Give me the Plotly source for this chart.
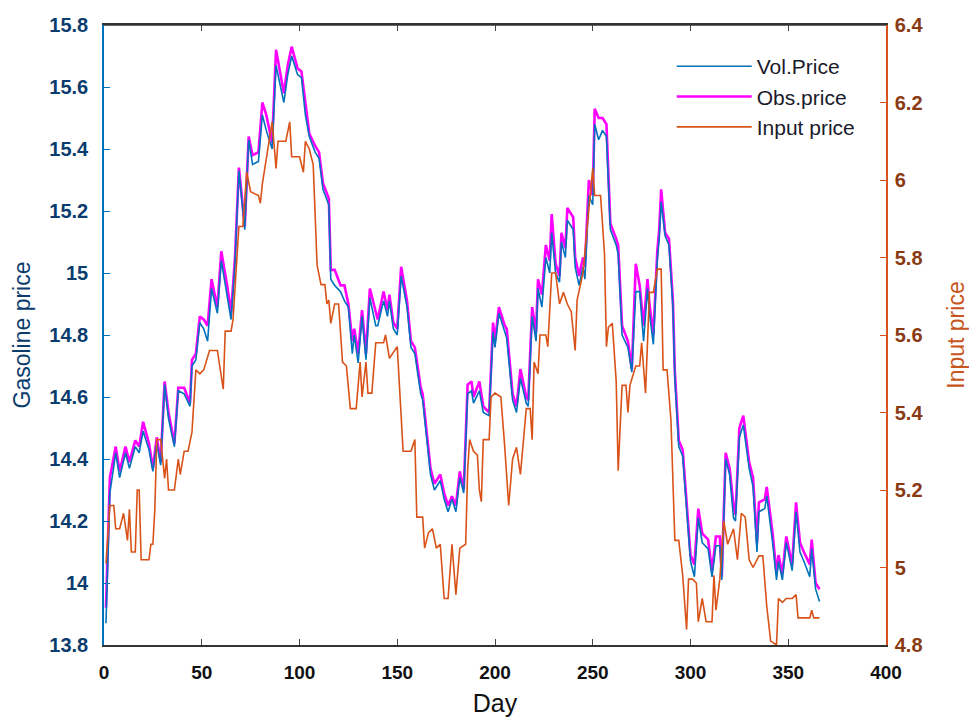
import plotly.graph_objects as go

# ---------------- data ----------------
gas_days = [1, 3, 6, 8, 11, 13, 16, 18, 20, 23, 25, 27, 29, 31, 33, 36, 38, 41, 44, 45,
            47, 49, 51, 53, 55, 58, 60, 63, 65, 67, 69, 72, 74, 76, 79, 81, 83, 86, 88, 92,
            94, 96, 99, 101, 103, 105, 108, 110, 112, 115, 116, 118, 121, 123, 125, 127, 128, 130, 132, 134,
            136, 139, 140, 143, 145, 146, 148, 150, 152, 155, 157, 159, 162, 163, 167, 169, 172, 174, 176, 178,
            180, 182, 184, 186, 188, 189, 192, 194, 197, 199, 200, 202, 205, 206, 209, 211, 213, 216, 217, 219,
            221, 222, 224, 226, 228, 229, 231, 233, 234, 236, 237, 240, 241, 243, 245, 246, 248, 250, 251, 253,
            255, 257, 259, 262, 263, 265, 268, 270, 272, 274, 276, 278, 279, 281, 283, 284, 285, 287, 289, 291,
            292, 294, 296, 298, 300, 302, 304, 306, 309, 311, 313, 315, 316, 318, 320, 322, 323, 325, 327, 330,
            332, 334, 335, 338, 339, 342, 344, 345, 347, 349, 352, 354, 356, 358, 361, 362, 364, 366]

obs_price = [13.92, 14.34, 14.44, 14.36, 14.44, 14.39, 14.46, 14.44, 14.52, 14.45, 14.37, 14.47, 14.39, 14.65, 14.55, 14.45, 14.63, 14.63, 14.58, 14.72,
             14.74, 14.86, 14.85, 14.83, 14.98, 14.89, 15.07, 14.96, 14.87, 15.05, 15.34, 15.15, 15.44, 15.38, 15.39, 15.55, 15.51, 15.42, 15.72, 15.58,
             15.67, 15.73, 15.66, 15.65, 15.55, 15.45, 15.41, 15.39, 15.29, 15.24, 15.01, 15.01, 14.96, 14.96, 14.90, 14.78, 14.82, 14.74, 14.88, 14.74,
             14.95, 14.87, 14.85, 14.94, 14.88, 14.93, 14.84, 14.82, 15.02, 14.91, 14.78, 14.76, 14.63, 14.61, 14.37, 14.32, 14.35, 14.29, 14.25, 14.28,
             14.25, 14.36, 14.30, 14.64, 14.65, 14.60, 14.65, 14.57, 14.55, 14.84, 14.78, 14.89, 14.83, 14.82, 14.61, 14.57, 14.69, 14.60, 14.59, 14.89,
             14.81, 14.98, 14.93, 15.09, 15.04, 15.19, 15.03, 14.99, 15.13, 15.08, 15.21, 15.18, 15.05, 14.99, 15.05, 15.02, 15.30, 15.25, 15.53, 15.50,
             15.50, 15.48, 15.16, 15.11, 15.09, 14.83, 14.78, 14.69, 15.03, 14.96, 14.83, 14.98, 14.90, 14.80, 15.07, 15.14, 15.27, 15.13, 15.11, 14.91,
             14.68, 14.46, 14.43, 14.26, 14.09, 14.06, 14.24, 14.16, 14.14, 14.04, 14.15, 14.15, 14.02, 14.42, 14.37, 14.25, 14.22, 14.50, 14.54, 14.39,
             14.34, 14.13, 14.26, 14.27, 14.31, 14.16, 14.03, 14.09, 14.03, 14.15, 14.06, 14.26, 14.13, 14.10, 14.06, 14.14, 14.00, 13.98]

vol_price = [13.87, 14.29, 14.42, 14.34, 14.42, 14.37, 14.44, 14.42, 14.49, 14.43, 14.36, 14.45, 14.38, 14.64, 14.53, 14.44, 14.62, 14.61, 14.57, 14.70,
             14.72, 14.84, 14.82, 14.78, 14.95, 14.87, 15.04, 14.93, 14.85, 15.03, 15.33, 15.14, 15.43, 15.35, 15.36, 15.51, 15.46, 15.40, 15.67, 15.55,
             15.64, 15.70, 15.64, 15.63, 15.51, 15.44, 15.39, 15.37, 15.27, 15.22, 14.98, 14.96, 14.94, 14.91, 14.89, 14.74, 14.80, 14.71, 14.86, 14.72,
             14.92, 14.83, 14.83, 14.91, 14.86, 14.91, 14.82, 14.80, 14.99, 14.89, 14.76, 14.74, 14.61, 14.59, 14.35, 14.30, 14.33, 14.27, 14.23, 14.27,
             14.23, 14.34, 14.29, 14.61, 14.62, 14.58, 14.62, 14.55, 14.54, 14.81, 14.76, 14.87, 14.81, 14.79, 14.59, 14.55, 14.66, 14.58, 14.57, 14.86,
             14.78, 14.95, 14.89, 15.05, 15.00, 15.13, 15.00, 14.97, 15.10, 15.05, 15.17, 15.14, 15.02, 14.96, 15.02, 14.98, 15.25, 15.22, 15.48, 15.43,
             15.46, 15.44, 15.14, 15.09, 15.06, 14.80, 14.76, 14.68, 14.94, 14.94, 14.78, 14.95, 14.87, 14.77, 15.04, 15.11, 15.23, 15.12, 15.09, 14.89,
             14.66, 14.44, 14.41, 14.24, 14.07, 14.02, 14.21, 14.13, 14.11, 14.02, 14.12, 14.12, 14.01, 14.40, 14.35, 14.21, 14.20, 14.47, 14.51, 14.37,
             14.31, 14.10, 14.23, 14.24, 14.28, 14.13, 14.01, 14.07, 14.01, 14.13, 14.04, 14.23, 14.10, 14.07, 14.02, 14.11, 13.98, 13.94]

input_days = [1, 3, 5, 6, 8, 10, 12, 13, 14, 16, 17, 18, 19, 23, 24, 25, 26, 27, 29, 31,
              32, 33, 36, 38, 39, 41, 43, 45, 47, 49, 51, 54, 58, 61, 62, 65, 66, 69, 71, 73,
              75, 79, 80, 81, 86, 88, 89, 93, 95, 96, 100, 102, 103, 105, 107, 109, 111, 113, 114, 115,
              116, 118, 120, 122, 124, 126, 129, 131, 132, 134, 135, 137, 139, 143, 144, 146, 150, 153, 157, 159,
              160, 163, 164, 166, 168, 170, 172, 174, 176, 178, 180, 182, 185, 186, 187, 189, 191, 192, 193, 194,
              197, 198, 200, 203, 205, 207, 209, 211, 213, 216, 218, 219, 220, 222, 223, 226, 227, 229, 231, 233,
              235, 237, 239, 241, 242, 245, 247, 250, 251, 254, 256, 257, 258, 260, 262, 263, 265, 267, 268, 269,
              272, 274, 275, 277, 279, 281, 283, 285, 286, 288, 290, 292, 294, 296, 298, 299, 301, 303, 304, 306,
              308, 311, 312, 313, 315, 317, 319, 321, 322, 324, 326, 328, 330, 332, 335, 337, 339, 341, 344, 345,
              347, 349, 352, 354, 355, 361, 362, 363, 366]

input_price = [5.01, 5.16, 5.16, 5.10, 5.10, 5.14, 5.07, 5.15, 5.04, 5.04, 5.20, 5.20, 5.02, 5.02, 5.06, 5.06, 5.15, 5.33, 5.33, 5.23,
               5.28, 5.20, 5.20, 5.28, 5.24, 5.30, 5.30, 5.35, 5.51, 5.50, 5.51, 5.56, 5.56, 5.46, 5.61, 5.61, 5.64, 5.88, 5.88, 6.02,
               5.97, 5.96, 5.94, 5.99, 6.15, 6.03, 6.10, 6.10, 6.15, 6.06, 6.06, 6.02, 6.10, 6.08, 6.04, 5.78, 5.73, 5.73, 5.68, 5.69,
               5.63, 5.68, 5.68, 5.53, 5.52, 5.41, 5.41, 5.53, 5.44, 5.53, 5.45, 5.45, 5.58, 5.58, 5.60, 5.54, 5.57, 5.30, 5.30, 5.33,
               5.13, 5.13, 5.05, 5.09, 5.10, 5.05, 5.06, 4.92, 4.92, 5.06, 4.93, 5.05, 5.06, 5.25, 5.33, 5.30, 5.29, 5.20, 5.17, 5.33,
               5.33, 5.44, 5.45, 5.44, 5.31, 5.16, 5.28, 5.31, 5.24, 5.41, 5.41, 5.33, 5.53, 5.50, 5.60, 5.60, 5.57, 5.76, 5.76, 5.68,
               5.71, 5.68, 5.66, 5.56, 5.69, 5.76, 5.87, 6.03, 5.96, 5.96, 5.81, 5.57, 5.62, 5.63, 5.48, 5.25, 5.47, 5.47, 5.40, 5.47,
               5.52, 5.52, 5.58, 5.45, 5.71, 5.71, 5.77, 5.77, 5.51, 5.51, 5.38, 5.07, 5.07, 4.98, 4.84, 4.97, 4.97, 4.96, 4.86, 4.92,
               4.86, 4.86, 4.98, 4.89, 4.97, 5.12, 5.06, 5.09, 5.10, 5.02, 5.14, 5.13, 5.02, 5.00, 5.03, 5.03, 4.90, 4.81, 4.80, 4.92,
               4.91, 4.92, 4.92, 4.93, 4.87, 4.87, 4.89, 4.87, 4.87]

x_ticks = [0, 50, 100, 150, 200, 250, 300, 350, 400]
left_ticks = [13.8, 14, 14.2, 14.4, 14.6, 14.8, 15, 15.2, 15.4, 15.6, 15.8]
left_tick_labels = ["13.8", "14", "14.2", "14.4", "14.6", "14.8", "15", "15.2", "15.4", "15.6", "15.8"]
right_ticks = [4.8, 5, 5.2, 5.4, 5.6, 5.8, 6, 6.2, 6.4]
right_tick_labels = ["4.8", "5", "5.2", "5.4", "5.6", "5.8", "6", "6.2", "6.4"]

BLUE = "#0072BD"
ORANGE = "#D95319"
MAGENTA = "#FF00FF"
LEFT_TXT = "#0B3C6E"
RIGHT_TXT = "#8A3A12"

fig = go.Figure()

fig.add_trace(go.Scatter(x=gas_days, y=obs_price, mode="lines", name="Obs.price",
                         line=dict(color=MAGENTA, width=2.6), legendrank=2, yaxis="y"))
fig.add_trace(go.Scatter(x=gas_days, y=vol_price, mode="lines", name="Vol.Price",
                         line=dict(color=BLUE, width=1.6), legendrank=1, yaxis="y"))
fig.add_trace(go.Scatter(x=input_days, y=input_price, mode="lines", name="Input price",
                         line=dict(color=ORANGE, width=1.6), legendrank=3, yaxis="y2"))

fig.update_layout(
    width=969, height=717,
    margin=dict(l=104, r=83, t=25, b=72),
    paper_bgcolor="white", plot_bgcolor="white",
    font=dict(family="Liberation Sans, Arial, sans-serif", color="#222222"),
    showlegend=True,
    legend=dict(x=0.726, y=0.966, xanchor="left", yanchor="top",
                bgcolor="rgba(0,0,0,0)", borderwidth=0,
                font=dict(size=21, color="#1a1a2a"),
                itemwidth=75, tracegroupgap=0, traceorder="normal"),
    xaxis=dict(range=[0, 400], tickmode="array", tickvals=x_ticks,
               ticks="inside", ticklen=6, tickcolor="#444444",
               showline=True, linecolor="#333333", linewidth=1.5, mirror="ticks",
               showgrid=False, zeroline=False, ticklabelstandoff=9, automargin=False,
               tickfont=dict(size=19, color="#111111", weight="bold"),
               title=dict(text="Day", font=dict(size=25, color="#111111"), standoff=16)),
    yaxis=dict(range=[13.8, 15.8], tickmode="array", tickvals=left_ticks, ticktext=left_tick_labels,
               ticks="inside", ticklen=6, tickcolor=BLUE,
               showline=True, linecolor=BLUE, linewidth=1.5,
               showgrid=False, zeroline=False, ticklabelstandoff=10, automargin=False,
               tickfont=dict(size=20, color=LEFT_TXT, weight="bold"),
               title=dict(text="Gasoline price", font=dict(size=23, color=LEFT_TXT), standoff=12)),
    yaxis2=dict(range=[4.8, 6.4], tickmode="array", tickvals=right_ticks, ticktext=right_tick_labels,
                overlaying="y", side="right", anchor="x",
                ticks="inside", ticklen=6, tickcolor=ORANGE,
                showline=True, linecolor=ORANGE, linewidth=1.5,
                showgrid=False, zeroline=False, ticklabelstandoff=3, automargin=False,
                tickfont=dict(size=20, color=RIGHT_TXT, weight="bold"),
                title=dict(text="Input price", font=dict(size=23, color="#C8541E"), standoff=26)),
)

# top frame line (box on)
fig.add_shape(type="line", xref="paper", yref="paper", x0=0, x1=1, y0=1, y1=1,
              line=dict(color="#333333", width=1.5))

fig.write_html("out.html")
